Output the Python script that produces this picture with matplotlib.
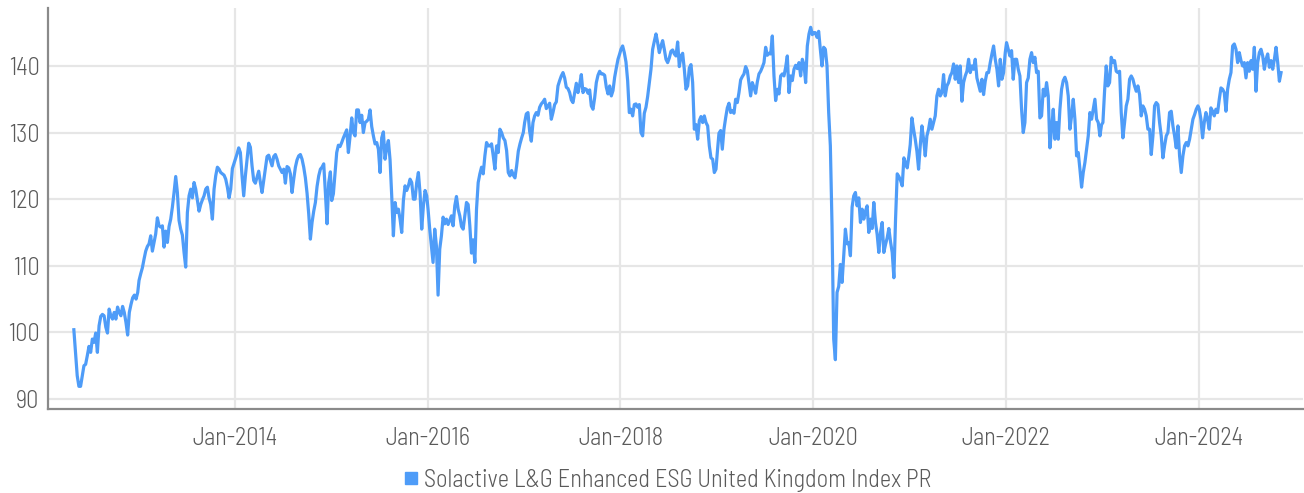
import matplotlib
matplotlib.use('Agg')
import matplotlib.pyplot as plt
import matplotlib.dates as mdates
from matplotlib.lines import Line2D
import pandas as pd

# Index level, read off the chart roughly once a week, one list per calendar year
values_2012 = [100.4, 97.0, 93.5, 91.9, 91.9, 93.5, 95.0, 95.2, 96.5, 97.9, 97.0, 99.0, 98.5,
               99.9, 97.0, 101.0, 102.4, 102.7, 102.5, 100.8, 99.9, 103.5, 102.5, 102.0, 103.0,
               102.0, 103.8, 103.0, 102.5, 103.9, 103.0, 101.5, 99.6, 103.0, 104.2, 105.2, 105.6,
               105.0, 106.0]
values_2013 = [107.8, 108.8, 109.7, 111.0, 112.2, 112.9, 113.3, 114.5, 112.2, 113.5, 114.8, 117.2,
               116.0, 115.8, 116.0, 112.8, 115.2, 113.5, 115.9, 117.0, 118.8, 121.0, 123.4, 121.0,
               116.8, 115.5, 114.6, 112.0, 109.8, 118.0, 120.5, 121.5, 120.2, 122.5, 121.5, 119.8,
               118.2, 119.2, 119.9, 120.5, 121.5, 121.8, 120.2, 119.2, 117.0, 121.5, 123.5, 124.8,
               124.5, 124.0, 123.8, 123.6, 123.0, 121.8, 120.2, 121.5, 124.6, 125.4]
values_2014 = [126.0, 126.8, 127.7, 127.0, 123.5, 120.5, 123.5, 126.0, 128.4, 127.8, 125.0, 122.8,
               122.4, 123.3, 124.2, 122.5, 121.0, 122.8, 124.5, 126.4, 126.6, 125.8, 125.0, 126.4,
               126.7, 126.0, 125.0, 124.5, 124.0, 124.5, 122.4, 124.9, 124.7, 123.8, 121.0, 123.0,
               124.8, 125.9, 126.5, 126.7, 126.0, 124.8, 123.2, 120.9, 117.8, 114.0, 116.5, 118.2,
               119.5, 121.9, 123.5, 124.5, 124.8, 125.3, 121.0, 116.3, 122.5, 124.1]
values_2015 = [119.8, 120.8, 124.0, 127.0, 128.1, 127.9, 128.5, 129.2, 129.8, 130.4, 127.0, 129.4,
               132.2, 130.0, 129.5, 133.4, 133.4, 131.5, 132.6, 130.0, 131.5, 131.7, 132.0, 133.4,
               130.9, 129.5, 128.3, 128.5, 127.5, 124.0, 129.2, 130.1, 126.0, 127.8, 128.8, 125.9,
               120.5, 114.5, 119.5, 118.0, 118.5, 117.0, 115.0, 119.8, 122.0, 121.3, 122.0, 123.0,
               122.5, 120.0, 120.0, 122.5, 124.0, 120.9, 115.5, 119.0, 121.3, 120.5]
values_2016 = [118.5, 115.5, 113.0, 110.5, 115.5, 113.0, 105.6, 112.5, 114.5, 117.3, 116.3, 117.0,
               116.2, 116.8, 117.5, 116.0, 119.0, 120.4, 118.5, 117.5, 115.9, 115.5, 117.5, 119.5,
               119.2, 116.0, 111.9, 113.9, 110.5, 118.5, 122.5, 123.8, 124.8, 123.8, 126.5, 128.5,
               128.0, 128.0, 128.3, 126.5, 124.5, 128.0, 127.0, 130.5, 130.0, 129.2, 128.8, 127.3,
               124.0, 123.5, 124.3, 123.6, 123.2, 125.0, 127.2, 128.3, 129.2, 130.0]
values_2017 = [131.5, 132.8, 133.0, 130.2, 128.7, 131.5, 132.5, 133.0, 132.6, 133.8, 134.3, 134.6,
               135.0, 133.6, 134.0, 134.4, 132.0, 133.0, 134.2, 134.6, 137.0, 137.8, 138.5, 139.0,
               138.2, 136.8, 136.6, 136.0, 134.9, 134.5, 136.0, 137.4, 136.0, 137.2, 138.7, 136.0,
               136.6, 136.5, 135.9, 136.4, 134.0, 133.5, 135.2, 137.5, 138.6, 139.2, 138.8, 138.8,
               138.6, 136.8, 135.8, 137.0, 135.5, 136.3, 138.3, 139.7, 141.0, 141.8]
values_2018 = [142.5, 143.0, 142.0, 140.6, 137.8, 133.0, 133.5, 132.5, 134.2, 134.3, 133.8, 134.2,
               130.0, 129.5, 132.9, 133.8, 135.4, 137.4, 139.5, 142.5, 143.7, 144.8, 143.5, 142.0,
               143.0, 143.8, 142.5, 141.0, 140.5, 141.2, 142.2, 142.4, 141.8, 141.5, 143.6, 139.9,
               141.5, 141.9, 139.5, 136.5, 137.0, 139.7, 140.2, 137.5, 130.5, 131.2, 129.0, 131.8,
               132.4, 131.5, 132.5, 131.5, 131.0, 128.0, 126.2, 126.0, 124.0, 124.5]
values_2019 = [127.0, 129.9, 130.3, 127.5, 130.5, 132.2, 133.7, 134.4, 133.0, 133.3, 132.9, 135.0,
               134.5, 136.0, 137.9, 138.4, 138.8, 139.9, 139.3, 137.4, 135.5, 137.5, 136.8, 135.9,
               137.6, 138.8, 139.2, 139.8, 140.5, 142.8, 141.6, 141.9, 141.8, 144.5, 138.5, 134.8,
               136.5, 135.8, 138.5, 138.8, 138.5, 139.8, 141.5, 136.0, 138.5, 137.8, 139.5, 140.1,
               139.6, 140.5, 138.5, 141.0, 140.2, 137.5, 143.0, 144.8, 145.8, 144.7]
values_2020 = [145.0, 145.0, 144.3, 145.2, 142.5, 140.0, 142.8, 142.5, 140.0, 133.0, 128.0, 116.0,
               99.0, 95.9, 106.0, 106.9, 110.2, 107.5, 111.5, 115.5, 113.3, 113.5, 111.5, 118.8,
               120.5, 121.0, 119.0, 120.2, 116.5, 118.5, 117.0, 118.2, 119.0, 115.0, 117.0, 115.6,
               119.5, 116.5, 114.7, 112.0, 115.0, 116.5, 112.0, 113.2, 114.2, 115.6, 113.6, 112.0,
               108.2, 117.0, 123.8, 123.4, 122.8, 122.0, 126.2, 125.4, 124.7, 126.5]
values_2021 = [128.2, 132.2, 130.5, 129.0, 127.2, 124.5, 128.0, 131.0, 129.0, 126.5, 129.5, 130.5,
               132.0, 130.5, 131.5, 132.5, 135.5, 136.5, 135.5, 136.0, 138.7, 135.5, 137.0, 137.5,
               138.5, 139.0, 140.3, 138.0, 140.0, 137.5, 140.0, 134.7, 137.5, 138.5, 139.2, 141.0,
               139.0, 140.0, 139.5, 141.0, 138.2, 137.2, 136.2, 138.0, 135.7, 137.7, 139.0, 139.0,
               140.5, 141.8, 143.0, 141.0, 139.5, 137.0, 141.0, 138.0, 139.0, 142.0]
values_2022 = [143.5, 142.5, 141.5, 142.3, 138.0, 141.0, 141.0, 139.5, 138.5, 133.5, 130.0, 131.5,
               137.5, 138.2, 141.0, 142.0, 140.5, 141.3, 139.0, 139.2, 132.2, 132.5, 136.5, 135.5,
               137.5, 135.5, 127.7, 130.5, 133.5, 129.0, 131.5, 129.0, 133.5, 136.5, 137.8, 138.3,
               137.5, 135.5, 130.5, 132.5, 135.0, 132.0, 126.5, 127.0, 124.5, 121.8, 124.0, 125.5,
               127.5, 129.5, 133.0, 132.0, 133.5, 135.0, 132.0, 131.5, 129.5, 131.2]
values_2023 = [131.5, 136.2, 140.0, 137.0, 137.5, 141.3, 140.5, 140.8, 139.2, 139.0, 139.2, 133.0,
               129.2, 131.5, 134.0, 135.0, 138.0, 138.5, 138.0, 137.0, 136.2, 137.0, 135.7, 132.5,
               134.0, 133.5, 132.5, 130.5, 130.5, 126.7, 129.5, 134.0, 134.5, 134.2, 131.5, 129.5,
               126.2, 128.0, 129.5, 130.0, 133.0, 133.2, 131.0, 129.5, 127.7, 131.0, 126.5, 124.0,
               126.5, 128.0, 128.5, 128.0, 129.0, 130.5, 132.0, 132.7, 133.5, 134.0]
values_2024 = [133.5, 132.0, 129.2, 131.5, 133.0, 132.0, 130.5, 133.7, 133.2, 132.5, 133.5, 133.0,
               135.0, 136.7, 136.5, 136.0, 133.2, 136.5, 138.0, 139.0, 143.0, 143.3, 142.5, 140.5,
               142.0, 140.8, 140.0, 140.5, 138.2, 140.5, 139.2, 140.8, 139.5, 142.8, 136.2, 140.5,
               142.0, 142.5, 141.5, 139.5, 141.0, 141.8, 139.8, 140.8, 139.5, 141.0, 142.8, 140.5,
               137.7, 139.0]

yearly_values = [values_2012, values_2013, values_2014, values_2015, values_2016, values_2017,
                 values_2018, values_2019, values_2020, values_2021, values_2022, values_2023,
                 values_2024]
# first and last observation date of each yearly list
first_dates = ['2012-05-01'] + [f'{y}-01-03' for y in range(2013, 2025)]
last_dates = [f'{y}-12-29' for y in range(2012, 2024)] + ['2024-11-08']

series_name = 'Solactive L&G Enhanced ESG United Kingdom Index PR'

parts = []
for vals, d0, d1 in zip(yearly_values, first_dates, last_dates):
    idx = pd.date_range(d0, d1, periods=len(vals))
    parts.append(pd.Series(vals, index=idx))
index_level = pd.concat(parts)

line_color = '#4e9cf8'
text_color = '#5a5a5a'
grid_color = '#e6e6e6'
font = ['Barlow Semi Condensed', 'DejaVu Sans']

fig = plt.figure(figsize=(13.04, 4.93), dpi=100)
ax = fig.add_axes([0.0368, 0.1704, 0.9622, 0.8134])

ax.plot(index_level.index, index_level.values, color=line_color, lw=2.3, zorder=3)

ax.set_ylim(88.5, 148.7)
ax.set_xlim(pd.Timestamp('2012-01-24'), pd.Timestamp('2025-01-29'))
ax.set_yticks([90, 100, 110, 120, 130, 140])
ax.xaxis.set_major_locator(mdates.YearLocator(2, month=1, day=1))
ax.xaxis.set_major_formatter(mdates.DateFormatter('%b-%Y'))

ax.grid(True, color=grid_color, lw=1.6, zorder=0)
for side in ['top', 'right']:
    ax.spines[side].set_visible(False)
for side in ['left', 'bottom']:
    ax.spines[side].set_color('#8a8a8a')
    ax.spines[side].set_linewidth(1.6)

ax.tick_params(axis='both', length=0, labelsize=17.5, labelcolor=text_color)
ax.tick_params(axis='y', pad=6)
ax.tick_params(axis='x', pad=13)
for lab in ax.get_xticklabels() + ax.get_yticklabels():
    lab.set_family(font)
    lab.set_fontweight(300)

handle = Line2D([], [], ls='none', marker='s', markersize=8, color=line_color)
fig.legend([handle], [series_name], loc='center', bbox_to_anchor=(0.511, 0.026),
           borderaxespad=0, borderpad=0, frameon=False, handletextpad=0.15, handlelength=0.8,
           prop={'family': font, 'size': 17.5, 'weight': 300}, labelcolor=text_color)

fig.savefig('out.png', dpi=100)
